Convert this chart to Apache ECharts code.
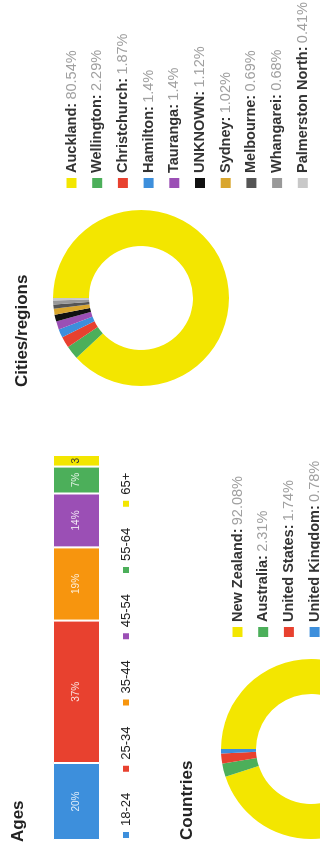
<!DOCTYPE html>
<html>
<head>
<meta charset="utf-8">
<script src="https://cdn.jsdelivr.net/npm/echarts@6/dist/echarts.min.js"></script>
<style>
  html, body { margin: 0; padding: 0; background: #fff; overflow: hidden; }
  #wrap { width: 320px; height: 848px; position: relative; overflow: hidden; }
  /* the reference is turned a quarter turn, so draw it flat and rotate the box */
  #chart {
    position: absolute; left: 0; top: 0;
    width: 848px; height: 320px;
    transform-origin: 0 0;
    transform: translate(0, 848px) rotate(-90deg);
  }
</style>
</head>
<body>
<div id="wrap"><div id="chart"></div></div>
<script>
const ageGroups = ['18-24', '25-34', '35-44', '45-54', '55-64', '65+'];
const agePct = [20, 37, 19, 14, 7, 3];
const ageColors = ['#3d8fdc', '#e8412f', '#f7950e', '#9b4fb5', '#4caf5a', '#f3e600'];

const countryNames = ['New Zealand', 'Australia', 'United States', 'United Kingdom'];
const countryPct = [92.08, 2.31, 1.74, 0.78];
const countryColors = ['#f3e600', '#4caf5a', '#e8412f', '#3d8fdc'];

const cityNames = ['Auckland', 'Wellington', 'Christchurch', 'Hamilton', 'Tauranga',
  'UNKNOWN', 'Sydney', 'Melbourne', 'Whangarei', 'Palmerston North'];
const cityPct = [80.54, 2.29, 1.87, 1.4, 1.4, 1.12, 1.02, 0.69, 0.68, 0.41];
const cityColors = ['#f3e600', '#4caf5a', '#e8412f', '#3d8fdc', '#9b4fb5',
  '#111111', '#d9a62e', '#555555', '#999999', '#c8c8c8'];

const font = "'Liberation Sans', Arial, sans-serif";

let chart = echarts.init(document.getElementById('chart'));

function pctLookup(names, vals) {
    let m = {};
    names.forEach((n, i) => { m[n] = vals[i]; });
    return m;
}
let countryMap = pctLookup(countryNames, countryPct);
let cityMap = pctLookup(cityNames, cityPct);

const legendRich = {
    b: { fontFamily: font, fontSize: 14.5, fontWeight: 'bold', color: '#333', lineHeight: 16 },
    v: { fontFamily: font, fontSize: 14.5, color: '#a0a0a0', lineHeight: 16 }
};

let lastAge = ageGroups.length - 1;
let barSeries = ageGroups.map((g, i) => ({
    name: g,
    type: 'bar',
    stack: 'ages',
    barWidth: '100%',
    data: [agePct[i]],
    itemStyle: { color: ageColors[i], borderColor: '#fff', borderWidth: 1 },
    label: {
        show: true,
        position: 'inside',
        // the last slice is too thin, only the number fits
        formatter: i === lastAge ? '{c}' : '{c}%',
        fontFamily: font,
        fontSize: 10,
        color: i === lastAge ? '#333' : 'rgba(255,255,255,0.85)'
    },
    emphasis: { disabled: true }
}));

function pieSeries(names, vals, colors, center, radius) {
    return {
        type: 'pie',
        center: center,
        radius: radius,
        startAngle: 90,
        clockwise: true,
        label: { show: false },
        labelLine: { show: false },
        emphasis: { disabled: true },
        data: names.map((n, i) => ({ name: n, value: vals[i], itemStyle: { color: colors[i] } }))
    };
}

chart.setOption({
    animation: false,
    textStyle: { fontFamily: font },
    title: [
        { text: 'Ages', left: 6, top: 10, padding: 0,
          textStyle: { fontSize: 17, fontWeight: 'bold', color: '#222' } },
        { text: 'Countries', left: 8, top: 179, padding: 0,
          textStyle: { fontSize: 17, fontWeight: 'bold', color: '#222' } },
        { text: 'Cities/regions', left: 461, top: 14, padding: 0,
          textStyle: { fontSize: 17, fontWeight: 'bold', color: '#222' } }
    ],
    legend: [
        {
            data: ageGroups,
            orient: 'horizontal',
            left: 8, top: 119, padding: 0,
            itemWidth: 8, itemHeight: 8, itemGap: 19,
            icon: 'rect',
            selectedMode: false,
            textStyle: { fontSize: 13, color: '#222', lineHeight: 14 }
        },
        {
            data: countryNames,
            orient: 'vertical',
            left: 211, top: 230, height: 200, padding: 0,
            itemWidth: 10, itemHeight: 10, itemGap: 10.7,
            icon: 'rect',
            selectedMode: false,
            formatter: (n) => `{b|${n}:} {v|${countryMap[n]}%}`,
            textStyle: { rich: legendRich }
        },
        {
            data: cityNames,
            orient: 'vertical',
            left: 660, top: 64, height: 300, padding: 0,
            itemWidth: 10, itemHeight: 10, itemGap: 10.7,
            icon: 'rect',
            selectedMode: false,
            formatter: (n) => `{b|${n}:} {v|${cityMap[n]}%}`,
            textStyle: { rich: legendRich }
        }
    ],
    grid: { left: 8, top: 53, width: 385, height: 47 },
    xAxis: { type: 'value', min: 0, max: 100, show: false },
    yAxis: { type: 'category', data: ['Ages'], show: false },
    series: barSeries.concat([
        pieSeries(countryNames, countryPct, countryColors, [99, 311], [55, 90]),
        pieSeries(cityNames, cityPct, cityColors, [550, 141], [52, 88])
    ])
});
</script>
</body>
</html>
